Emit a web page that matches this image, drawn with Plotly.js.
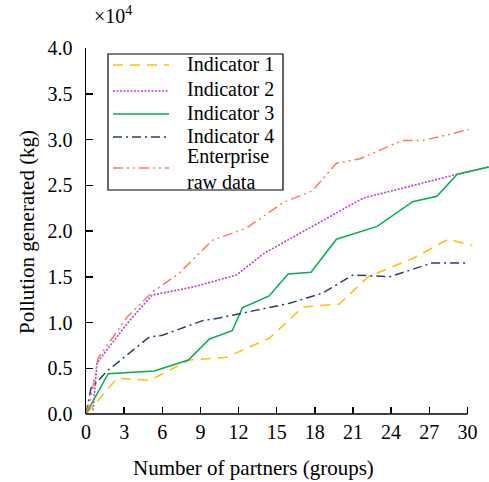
<!DOCTYPE html>
<html>
<head>
<meta charset="utf-8">
<script src="https://cdn.plot.ly/plotly-3.0.1.min.js"></script>
<style>html,body{margin:0;padding:0;background:#fff;}#chart{width:489px;height:482px;}</style>
</head>
<body>
<div id="chart"></div>
<script>
// values in units of 10^4 kg
const ind1X = [0, 2.45, 5.05, 8.13, 11.05, 14.45, 17.05, 19.9, 22.2, 25.7, 28.5, 30.4];
const ind1Y = [0, 0.39, 0.37, 0.59, 0.62, 0.83, 1.17, 1.20, 1.50, 1.70, 1.91, 1.84];
const ind2X = [0.55, 0.87, 3.24, 5.2, 8.5, 11.84, 14.05, 21.8, 29.2, 31.66];
const ind2Y = [0.04, 0.56, 0.99, 1.30, 1.39, 1.52, 1.76, 2.36, 2.62, 2.70];
const ind3X = [0, 1.74, 5.37, 8.05, 9.71, 11.5, 12.3, 14.4, 15.9, 17.7, 19.7, 22.9, 25.7, 27.6, 29.2, 31.7];
const ind3Y = [0, 0.44, 0.47, 0.59, 0.82, 0.91, 1.16, 1.29, 1.53, 1.55, 1.91, 2.05, 2.32, 2.38, 2.62, 2.70];
const ind4X = [0, 0.39, 1.66, 4.97, 6.0, 9.16, 10.5, 16.0, 18.6, 21.0, 23.9, 27.2, 30.1];
const ind4Y = [0, 0.28, 0.47, 0.84, 0.86, 1.02, 1.05, 1.21, 1.32, 1.52, 1.50, 1.65, 1.65];
const rawX = [0, 0.39, 0.95, 3.24, 5.2, 7.34, 9.95, 11.5, 12.6, 15.5, 17.8, 19.7, 21.55, 24.9, 26.5, 28.4, 30.1];
const rawY = [0, 0.17, 0.61, 1.06, 1.33, 1.54, 1.90, 1.98, 2.03, 2.31, 2.44, 2.74, 2.79, 2.99, 2.99, 3.05, 3.11];
const names = ['Indicator 1', 'Indicator 2', 'Indicator 3', 'Indicator 4', 'Enterprise<br>raw data'];
const xTicks = [0, 3, 6, 9, 12, 15, 18, 21, 24, 27, 30];
const yTicks = [0, 0.5, 1.0, 1.5, 2.0, 2.5, 3.0, 3.5, 4.0];

const FONT = '"Liberation Serif", "Times New Roman", serif';
const lineStyles = [
  {color: '#FFC000', width: 1.5, dash: '10px,7px'},
  {color: '#C03CD4', width: 1.6, dash: '2px,1.5px'},
  {color: '#00B050', width: 1.5, dash: 'solid'},
  {color: '#26406B', width: 1.5, dash: '9px,4px,2px,4px'},
  {color: '#FF7A5C', width: 1.5, dash: '10px,4px,2px,4px,2px,4px'}
];
const xs = [ind1X, ind2X, ind3X, ind4X, rawX];
const ys = [ind1Y, ind2Y, ind3Y, ind4Y, rawY];
const traces = xs.map((x, i) => ({
  type: 'scatter', mode: 'lines', x: x, y: ys[i], name: names[i],
  line: lineStyles[i], hoverinfo: 'skip', showlegend: false
}));

// manual legend geometry (plot-area fractions)
const L = 86, T = 48, PW = 403, PH = 366;
const px = v => (v - L) / PW;
const py = v => (T + PH - v) / PH;
const itemLineY = [65, 91, 114, 137, 168];
const itemTextY = [64, 89, 113, 136, 169];

const shapes = [
  {type: 'line', xref: 'x', yref: 'paper', x0: 0, x1: 30, y0: 0, y1: 0, line: {color: '#000', width: 1.5}},
  {type: 'rect', xref: 'paper', yref: 'paper', x0: px(108), x1: px(283), y0: py(54), y1: py(190),
   line: {color: '#000', width: 1.2}, fillcolor: '#fff', layer: 'above'}
];
const annotations = [
  {text: '×10<sup>4</sup>', xref: 'paper', yref: 'paper', x: px(92), y: py(29), xanchor: 'left', yanchor: 'bottom', showarrow: false, font: {family: FONT, size: 20}},
  {text: 'Number of partners (groups)', xref: 'paper', yref: 'paper', x: px(253), y: py(468), xanchor: 'center', yanchor: 'middle', showarrow: false, font: {family: FONT, size: 21}},
  {text: 'Pollution generated (kg)', xref: 'paper', yref: 'paper', x: px(27), y: py(232), xanchor: 'center', yanchor: 'middle', textangle: -90, showarrow: false, font: {family: FONT, size: 21}}
];
names.forEach((n, i) => {
  shapes.push({type: 'line', xref: 'paper', yref: 'paper', x0: px(113), x1: px(169), y0: py(itemLineY[i]), y1: py(itemLineY[i]),
    line: lineStyles[i], layer: 'above'});
  annotations.push({text: n, xref: 'paper', yref: 'paper', x: px(185), y: py(itemTextY[i]), xanchor: 'left', yanchor: 'middle',
    align: 'left', showarrow: false, font: {family: FONT, size: 20, color: '#000'}});
});

const layout = {
  width: 489, height: 482,
  margin: {l: L, r: 0, t: T, b: 482 - T - PH, pad: 0},
  paper_bgcolor: '#fff', plot_bgcolor: '#fff',
  font: {family: FONT, size: 20, color: '#000'},
  showlegend: false,
  xaxis: {
    range: [0, 31.7], showgrid: false, zeroline: false, showline: false,
    tickvals: xTicks, ticks: 'inside', ticklen: 7, tickwidth: 1.5, tickcolor: '#000',
    ticklabelstandoff: 4, tickfont: {family: FONT, size: 20}
  },
  yaxis: {
    range: [0, 4.0], showgrid: false, zeroline: false, showline: true,
    linecolor: '#000', linewidth: 1.5,
    tickvals: yTicks, tickformat: '.1f', ticks: 'inside', ticklen: 7, tickwidth: 1.5, tickcolor: '#000',
    ticklabelstandoff: 8, tickfont: {family: FONT, size: 20}
  },
  shapes: shapes,
  annotations: annotations
};
Plotly.newPlot('chart', traces, layout, {displayModeBar: false, staticPlot: true});
</script>
</body>
</html>
